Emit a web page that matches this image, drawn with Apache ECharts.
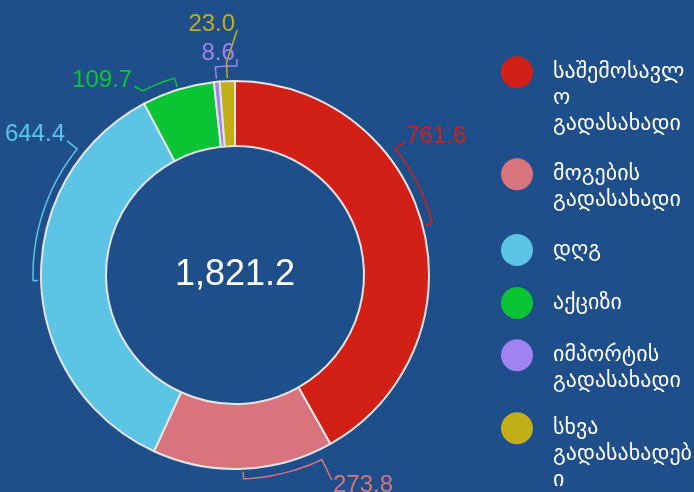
<!DOCTYPE html>
<html>
<head>
<meta charset="utf-8">
<script src="https://cdn.jsdelivr.net/npm/echarts/dist/echarts.min.js"></script>
<style>
  html, body { margin: 0; padding: 0; }
  #chart { width: 694px; height: 492px; }
</style>
</head>
<body>
<div id="chart"></div>
<script>
// budget revenue by tax type
const categories = [
  'საშემოსავლო გადასახადი',
  'მოგების გადასახადი',
  'დღგ',
  'აქციზი',
  'იმპორტის გადასახადი',
  'სხვა გადასახადები'
]
const values = [761.63, 273.82, 644.41, 109.71, 8.61, 23.02]
const colors = ['#d22016', '#d9747f', '#5cc5e5', '#0bc433', '#a082f0', '#c2af17']

// legend text, wrapped the way the picture shows it
const legendLines = [
  ['საშემოსავლ', 'ო', 'გადასახადი'],
  ['მოგების', 'გადასახადი'],
  ['დღგ'],
  ['აქციზი'],
  ['იმპორტის', 'გადასახადი'],
  ['სხვა', 'გადასახადებ', 'ი']
]

// layout of pie, legend and the bracket label lines
const cx = 235
const cy = 275
const rOuter = 194
const rInner = 129
const legendIconY = [72, 174, 250, 303, 355, 428]
const LH = 26
const legendFont = 22
const arcAngle = [38.3, -64.8, 141.4, 116.6, 89.5, null]
const arcR = [204, 204, 202, 206, 209, 213]
const endAngle = [38.0, -64.7, 141.4, 118.1, 89.5, 89.5]
const endR = [216, 227, 215, 214, 216, 245]

const total = values.reduce((a, b) => a + b, 0)
const midAngles = []
let cum = 0
values.forEach(v => {
  let a = 90 - 360 * (cum + v / 2) / total
  if (a <= -180) a += 360
  midAngles.push(a)
  cum += v
})

function polar(deg, r) {
  const a = deg * Math.PI / 180
  return [cx + r * Math.cos(a), cy - r * Math.sin(a)]
}

const chart = echarts.init(document.getElementById('chart'))

chart.setOption({
  backgroundColor: '#1f4f8a',
  animation: false,
  legend: categories.map((name, i) => {
    const n = legendLines[i].length
    return {
      data: [name],
      orient: 'vertical',
      left: 501,
      top: legendIconY[i] - Math.max(16, (n - 1) * LH + legendFont * 0.582),
      padding: 0,
      itemWidth: 32,
      itemHeight: 32,
      icon: 'circle',
      itemStyle: { borderWidth: 0 },
      selectedMode: false,
      formatter: () => '\n'.repeat(n - 1) + legendLines[i].join('\n'),
      textStyle: {
        color: '#ffffff',
        fontSize: legendFont,
        lineHeight: LH,
        fontFamily: 'DejaVu Sans',
        padding: [0, 0, 0, 15]
      }
    }
  }),
  graphic: [{
    type: 'text',
    x: cx,
    y: cy,
    style: {
      text: echarts.format.addCommas(total.toFixed(1)),
      fill: '#ffffff',
      font: '36px "Liberation Sans", Arial, sans-serif',
      align: 'center',
      verticalAlign: 'middle',
      textAlign: 'center',
      textVerticalAlign: 'middle'
    }
  }],
  series: [{
    type: 'pie',
    center: [cx, cy],
    radius: [rInner, rOuter],
    startAngle: 90,
    avoidLabelOverlap: false,
    itemStyle: {
      borderColor: '#e4e4e4',
      borderWidth: 2
    },
    label: {
      show: true,
      position: 'outside',
      fontSize: 24,
      fontFamily: '"Liberation Sans", Arial, sans-serif',
      formatter: p => p.value.toFixed(1)
    },
    labelLine: {
      show: true,
      smooth: false,
      lineStyle: { width: 1.5 }
    },
    labelLayout: function (p) {
      const i = p.dataIndex
      const mid = midAngles[i]
      const pts = [polar(mid, rOuter + 3)]
      let span = arcAngle[i] == null ? 0 : arcAngle[i] - mid
      if (span > 180) span -= 360
      if (span < -180) span += 360
      const steps = Math.max(1, Math.ceil(Math.abs(span) / 2))
      for (let k = 0; k <= steps; k++) {
        pts.push(polar(mid + span * k / steps, arcR[i]))
      }
      const end = polar(endAngle[i], endR[i])
      pts.push(end)
      const right = end[0] > cx + 5
      const below = end[1] > cy
      return {
        x: end[0] + (right ? 1 : -2),
        y: end[1] + (below ? 5 : -6),
        align: right ? 'left' : 'right',
        verticalAlign: 'middle',
        labelLinePoints: pts
      }
    },
    data: categories.map((name, i) => ({
      name: name,
      value: values[i],
      itemStyle: { color: colors[i] },
      label: { color: colors[i] },
      labelLine: { lineStyle: { color: colors[i] } }
    }))
  }]
})
</script>
</body>
</html>
